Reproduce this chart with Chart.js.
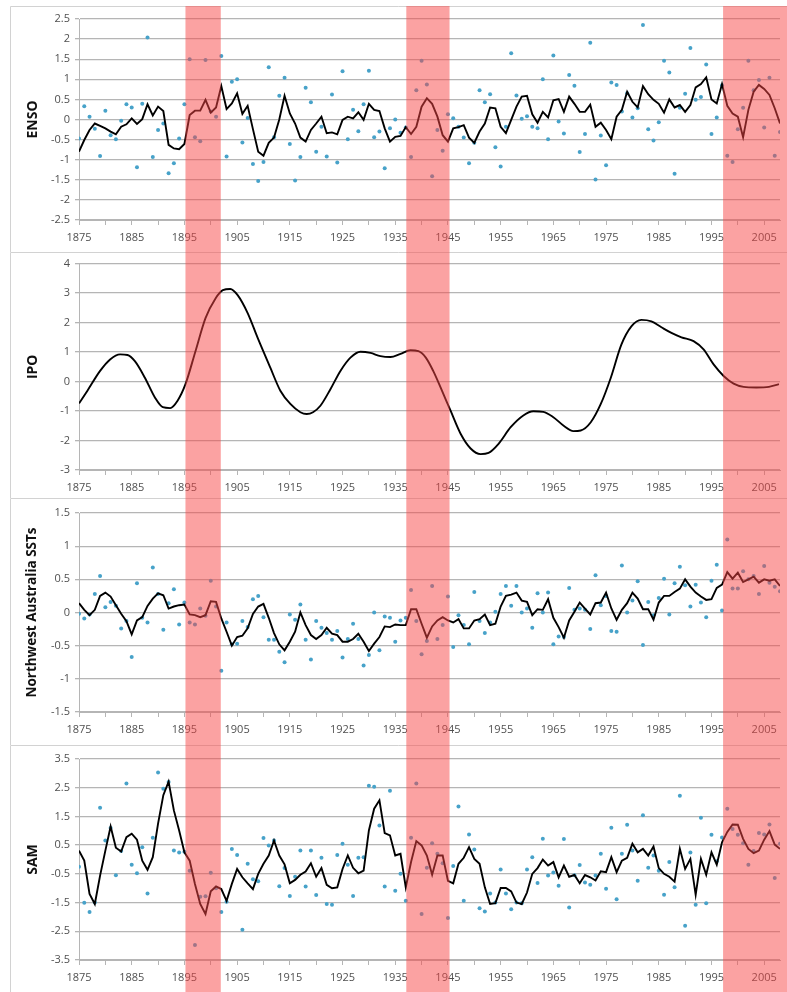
<!DOCTYPE html>
<html>
<head>
<meta charset="utf-8">
<script src="https://cdn.jsdelivr.net/npm/chart.js@4.4.1/dist/chart.umd.min.js"></script>
<style>
  html,body{margin:0;padding:0;background:#fff;}
  body{width:787px;height:992px;position:relative;overflow:hidden;}
  canvas{position:absolute;left:0;}
</style>
</head>
<body>
<canvas id="c1" width="787" height="246" style="top:6px"></canvas>
<canvas id="c2" width="787" height="246" style="top:252px"></canvas>
<canvas id="c3" width="787" height="247" style="top:498px"></canvas>
<canvas id="c4" width="787" height="247" style="top:745px"></canvas>
<script>
// ---------- data ----------
const startYear = 1875;
const endYear = 2008;
const xTickLabels = ['1875','1885','1895','1905','1915','1925','1935','1945','1955','1965','1975','1985','1995','2005'];

// shaded periods (years)
const bandStart = [1895.2, 1937.1, 1997.2];
const bandEnd   = [1901.9, 1945.3, 2010.0];

// ENSO: annual values (dots) and smoothed (line), 1875-2008
const ensoAnnual = [
 -0.47, 0.33, 0.07,-0.23,-0.91, 0.22,-0.39,-0.49,-0.03, 0.38,
  0.30,-1.19, 0.39, 2.04,-0.93,-0.26,-0.10,-1.34,-1.09,-0.47,
  0.38, 1.50,-0.44,-0.54, 1.48, 0.20, 0.07, 1.58,-0.92, 0.94,
  1.00,-0.57, 0.04,-1.11,-1.53,-1.06, 1.30,-0.44, 0.59, 1.04,
 -0.61,-1.52,-0.93, 0.79, 0.43,-0.80,-0.18,-0.92, 0.62,-1.07,
  1.20,-0.49, 0.24,-0.29, 0.38, 1.21,-0.44,-0.30,-1.21,-0.22,
  0.00,-0.33,-0.20,-0.93, 0.73, 1.46, 0.87,-1.41,-0.26,-0.78,
  0.13, 0.03,-0.18,-0.45,-1.09,-0.58, 0.73, 0.43, 0.63,-0.69,
 -1.17,-0.18, 1.65, 0.60, 0.02, 0.08,-0.18,-0.22, 1.00,-0.49,
  1.59,-0.05,-0.35, 1.11, 0.84,-0.81,-0.36, 1.91,-1.49,-0.40,
 -1.14, 0.92, 0.86, 0.20, 0.65, 0.05, 0.28, 2.35,-0.24,-0.52,
 -0.07, 1.46, 1.17,-1.35, 0.29, 0.64, 1.78, 0.49, 0.56, 1.37,
 -0.36, 0.05, 0.85,-0.90,-1.06,-0.24, 0.29, 1.46, 0.73, 0.98,
 -0.20, 1.04,-0.90,-0.31];
const ensoSmoothed = [
 -0.80,-0.51,-0.26,-0.10,-0.16,-0.22,-0.30,-0.37,-0.18,-0.12,
  0.03,-0.11, 0.01, 0.38, 0.10, 0.32, 0.21,-0.63,-0.72,-0.74,
 -0.61, 0.11, 0.22, 0.22, 0.49, 0.17, 0.30, 0.83, 0.26, 0.40,
  0.65, 0.14, 0.34,-0.24,-0.80,-0.90,-0.58,-0.45, 0.00, 0.59,
  0.15,-0.10,-0.45,-0.55,-0.26,-0.10, 0.07,-0.34,-0.32,-0.37,
 -0.01, 0.07, 0.03, 0.18,-0.01, 0.39, 0.24, 0.21,-0.22,-0.55,
 -0.43,-0.41,-0.19,-0.36,-0.18, 0.32, 0.53, 0.39, 0.07,-0.39,
 -0.55,-0.22,-0.19,-0.14,-0.45,-0.58,-0.30,-0.10, 0.30, 0.28,
 -0.18,-0.34,-0.01, 0.32, 0.57, 0.59, 0.13,-0.08, 0.19, 0.05,
  0.48, 0.51, 0.19, 0.57, 0.39, 0.19, 0.19, 0.37,-0.18,-0.08,
 -0.26,-0.49, 0.07, 0.24, 0.69, 0.44, 0.30, 0.83, 0.63, 0.49,
  0.39, 0.17, 0.50, 0.30, 0.36, 0.19, 0.36, 0.80, 0.88, 1.05,
  0.50, 0.40, 0.88, 0.34, 0.15, 0.07,-0.44, 0.24, 0.69, 0.86,
  0.76, 0.61, 0.28,-0.10];

// IPO: smooth curve read at these years
const ipoYears = [
 1875,1876.6,1879,1880.9,1882.8,1884.2,1885.6,1887.5,1889.4,1890.9,
 1892.3,1893.7,1895.2,1897.1,1899,1900.9,1902.3,1903.7,1905.1,1907,
 1908.9,1911.3,1913.2,1915.1,1917,1918.2,1919.4,1920.8,1922.7,1924.6,
 1926.5,1928.4,1930.3,1932.2,1934.1,1936,1937.9,1939.4,1940.8,1942.2,
 1943.6,1945.5,1947.4,1949.3,1951.2,1952.7,1954.6,1956.9,1959.3,1961.2,
 1963.1,1965,1966.9,1968.8,1970.2,1972.1,1974,1975.9,1977.9,1979.8,
 1981.7,1983.6,1985.5,1987.4,1989.3,1991.6,1993.5,1995.4,1997.3,1999.2,
 2001.1,2003.5,2005.9,2007.8];
const ipoValues = [
 -0.74,-0.31, 0.36, 0.75, 0.92, 0.90, 0.69, 0.13,-0.54,-0.87,
 -0.90,-0.65,-0.09, 1.03, 2.15, 2.82, 3.10, 3.14, 2.93, 2.32,
  1.48, 0.47,-0.31,-0.76,-1.04,-1.10,-1.04,-0.82,-0.26, 0.36,
  0.81, 1.01, 0.97, 0.86, 0.83, 0.94, 1.06, 1.03, 0.81, 0.36,
 -0.20,-0.99,-1.77,-2.27,-2.46,-2.42,-2.11,-1.55,-1.15,-1.01,
 -1.03,-1.21,-1.49,-1.68,-1.66,-1.38,-0.76, 0.13, 1.25, 1.87,
  2.09, 2.04, 1.84, 1.65, 1.50, 1.37, 1.09, 0.58, 0.19,-0.07,
 -0.18,-0.20,-0.18,-0.09];

// Northwest Australia SSTs
const sstAnnual = [
 -0.02,-0.09,-0.03, 0.28, 0.55, 0.08, 0.16, 0.10,-0.24,-0.13,
 -0.67, 0.44,-0.08,-0.15, 0.68, 0.28,-0.26, 0.14, 0.35,-0.18,
  0.15,-0.15,-0.18, 0.06,-0.05, 0.48, 0.09,-0.88,-0.15,-0.48,
 -0.47,-0.13,-0.22, 0.20, 0.25,-0.07,-0.41,-0.41,-0.59,-0.75,
 -0.03,-0.11, 0.12,-0.41,-0.71,-0.13,-0.23,-0.31,-0.41,-0.28,
 -0.68,-0.40,-0.17,-0.40,-0.80,-0.64, 0.00,-0.57,-0.06,-0.08,
 -0.44,-0.12,-0.08, 0.34,-0.13,-0.63,-0.43, 0.40,-0.40,-0.19,
  0.24,-0.52,-0.04,-0.19,-0.48, 0.31,-0.13,-0.31,-0.15, 0.01,
  0.28, 0.40, 0.10, 0.40, 0.00, 0.06,-0.23, 0.29, 0.00, 0.30,
 -0.48,-0.36,-0.37, 0.37, 0.04, 0.06, 0.04,-0.25, 0.56, 0.11,
  0.25,-0.28,-0.29, 0.71, 0.00, 0.18, 0.47,-0.49, 0.16,-0.04,
  0.22, 0.51,-0.03, 0.44, 0.69, 0.41, 0.09, 0.42, 0.15,-0.07,
  0.48, 0.72, 0.03, 1.10, 0.36, 0.36, 0.62, 0.50, 0.55, 0.28,
  0.70, 0.45, 0.39, 0.32];
const sstSmoothed = [
  0.14, 0.04,-0.04, 0.04, 0.25, 0.30, 0.24, 0.11,-0.02,-0.13,
 -0.33,-0.12,-0.07, 0.10, 0.21, 0.29, 0.26, 0.06, 0.09, 0.11,
  0.12,-0.03,-0.04,-0.07,-0.04, 0.17, 0.16,-0.09,-0.29,-0.50,
 -0.37,-0.35,-0.24,-0.02, 0.09, 0.13,-0.08,-0.31,-0.48,-0.57,
 -0.44,-0.29, 0.00,-0.19,-0.34,-0.40,-0.34,-0.23,-0.32,-0.34,
 -0.44,-0.44,-0.40,-0.32,-0.44,-0.58,-0.47,-0.37,-0.21,-0.22,
 -0.18,-0.19,-0.19, 0.05, 0.05,-0.17,-0.38,-0.21,-0.12,-0.07,
 -0.12,-0.15,-0.10,-0.24,-0.24,-0.12,-0.10,-0.03,-0.19,-0.17,
  0.09, 0.25, 0.27, 0.30, 0.18, 0.16,-0.04, 0.05, 0.04, 0.20,
 -0.08,-0.22,-0.38,-0.12, 0.01, 0.15, 0.06,-0.03, 0.14, 0.15,
  0.30, 0.06,-0.11, 0.04, 0.14, 0.30, 0.21, 0.05, 0.05,-0.11,
  0.15, 0.25, 0.25, 0.31, 0.36, 0.50, 0.39, 0.30, 0.24, 0.19,
  0.20, 0.37, 0.42, 0.61, 0.51, 0.60, 0.46, 0.50, 0.54, 0.45,
  0.50, 0.48, 0.50, 0.40];

// SAM
const samAnnual = [
 -0.25,-1.51,-1.83,-1.50, 1.80, 0.66, 1.10,-0.55, 0.30, 2.65,
 -0.18,-0.48, 0.43,-1.18, 0.76, 3.03, 2.46, 2.70, 0.31, 0.24,
  0.27,-0.39,-2.98,-1.30,-1.28,-0.46,-1.00,-1.83,-1.47, 0.37,
  0.16,-2.45,-0.15,-0.69,-0.76, 0.75, 0.49, 0.66,-0.93,-0.30,
 -1.27,-0.60, 0.31,-0.94, 0.31,-1.24, 0.06,-1.55,-1.58, 0.16,
  0.55,-0.18,-1.27, 0.06, 0.08, 2.57, 2.53, 1.18,-0.94, 2.39,
 -1.09,-0.50,-1.44, 0.76, 2.65,-1.90,-0.29, 0.57, 0.20,-0.13,
 -2.04,-0.23, 1.85,-1.44, 0.87, 0.35,-1.70,-1.81,-1.18,-1.50,
 -0.35,-1.18,-1.73,-1.50,-1.52,-0.35, 0.08,-0.82, 0.72,-0.56,
 -0.45,-0.91, 0.71,-1.67,-0.55,-0.19,-0.80,-0.88,-0.56, 0.20,
 -1.02, 1.11,-1.38, 0.20, 1.21, 0.31,-0.74, 1.54,-0.29, 0.14,
 -0.39,-1.23,-0.09,-0.97, 2.22,-2.31, 0.24,-1.58, 1.45,-1.52,
  0.86,-0.06, 0.77, 1.77, 1.06, 0.86, 0.57,-0.18, 0.30, 0.92,
  0.87, 1.22,-0.64, 0.55];
const samSmoothed = [
  0.31,-0.04,-1.20,-1.55,-0.56, 0.31, 1.15, 0.41, 0.28, 0.78,
  0.90, 0.69,-0.04,-0.36, 0.08, 1.25, 2.24, 2.71, 1.71, 1.01,
  0.25,-0.04,-0.85,-1.55,-1.90,-1.11,-0.94,-1.03,-1.44,-0.85,
 -0.33,-0.62,-0.83,-1.03,-0.50,-0.15, 0.14, 0.66, 0.14,-0.17,
 -0.83,-0.71,-0.53,-0.42,-0.13,-0.60,-0.30,-0.88,-1.00,-0.97,
 -0.33, 0.14,-0.29,-0.48,-0.39, 1.01, 1.77, 2.06, 0.92, 0.84,
  0.14, 0.20,-0.97,-0.09, 0.64, 0.49, 0.14,-0.53, 0.14, 0.14,
 -0.74,-0.83,-0.15, 0.06, 0.43, 0.02,-0.15,-0.97,-1.55,-1.52,
 -0.99,-0.99,-1.11,-1.50,-1.55,-1.15,-0.50,-0.30, 0.00,-0.21,
 -0.09,-0.62,-0.21,-0.60,-0.54,-0.83,-0.54,-0.62,-0.73,-0.41,
 -0.44, 0.08,-0.44,-0.04, 0.06, 0.55, 0.25, 0.37, 0.14, 0.45,
 -0.30,-0.50,-0.60,-0.77, 0.37,-0.33, 0.02,-1.23, 0.02,-0.53,
  0.25,-0.18, 0.60, 0.96, 1.22, 1.21, 0.72, 0.37, 0.22, 0.31,
  0.69, 0.99, 0.52, 0.37];

// ---------- helpers ----------
const annual = arr => arr.map((v, i) => ({x: startYear + i, y: v}));
const paired = (xs, ys) => xs.map((x, i) => ({x: x, y: ys[i]}));

const GRID = '#b5b5b5';
const TICKC = '#505050';
const FONT = 'Open Sans';

const panelPlugin = {
  id: 'panelDeco',
  beforeDraw(chart) {
    const c = chart.ctx;
    c.save();
    c.strokeStyle = '#d2d2d2';
    c.lineWidth = 1;
    c.beginPath();
    c.moveTo(10.5, chart.height);
    c.lineTo(10.5, 0.5);
    c.lineTo(chart.width, 0.5);
    c.stroke();
    c.restore();
  },
  afterDraw(chart) {
    const xs = chart.scales.x;
    const c = chart.ctx;
    c.save();
    c.fillStyle = 'rgba(247,70,70,0.5)';
    bandStart.forEach((s, i) => {
      const a = xs.getPixelForValue(s);
      const b = xs.getPixelForValue(bandEnd[i]);
      c.fillRect(a, 0, b - a, chart.height);
    });
    c.restore();
  }
};

function makePanel(id, p) {
  const datasets = [{
    type: 'line',
    data: p.line,
    borderColor: '#000',
    borderWidth: 1.9,
    pointRadius: 0,
    tension: 0,
    cubicInterpolationMode: p.smooth ? 'monotone' : 'default',
    order: 0
  }];
  if (p.dots) {
    datasets.push({
      type: 'scatter',
      data: p.dots,
      backgroundColor: '#47a2c9',
      borderWidth: 0,
      pointRadius: 2,
      order: 1
    });
  }
  return new Chart(document.getElementById(id), {
    type: 'line',
    data: {datasets},
    options: {
      responsive: false,
      animation: false,
      events: [],
      layout: {padding: {left: 10, right: 7, top: p.padTop, bottom: 0}},
      plugins: {legend: {display: false}, tooltip: {enabled: false}},
      scales: {
        x: {
          type: 'linear',
          min: startYear,
          max: endYear,
          afterFit: s => { s.height = p.xh; },
          ticks: {
            stepSize: 5,
            autoSkip: false,
            includeBounds: false,
            maxRotation: 0,
            padding: 6,
            color: TICKC,
            font: {family: FONT, size: 11},
            callback: v => xTickLabels.includes(String(v)) ? String(v) : ''
          },
          grid: {drawOnChartArea: false, drawTicks: true, tickLength: 5, color: GRID},
          border: {display: true, color: GRID}
        },
        y: {
          min: p.min,
          max: p.max,
          afterFit: s => { s.width = 69; },
          ticks: {
            stepSize: p.step,
            padding: 5,
            color: TICKC,
            font: {family: FONT, size: 11},
            callback: v => String(Math.round(v * 10) / 10)
          },
          grid: {color: GRID, lineWidth: 1.3, tickLength: 4},
          border: {display: true, color: GRID},
          title: {
            display: true,
            text: p.title,
            color: '#111',
            font: {family: FONT, size: p.titleSize || 14, weight: 'bold'},
            padding: {top: 14.5, bottom: 0}
          }
        }
      }
    },
    plugins: [panelPlugin]
  });
}

makePanel('c1', {title: 'ENSO', min: -2.5, max: 2.5, step: 0.5, padTop: 13, xh: 32,
  line: annual(ensoSmoothed), dots: annual(ensoAnnual)});
makePanel('c2', {title: 'IPO', min: -3, max: 4, step: 1, padTop: 10, xh: 28, smooth: true,
  line: paired(ipoYears, ipoValues)});
makePanel('c3', {title: 'Northwest Australia SSTs', min: -1.5, max: 1.5, step: 0.5, padTop: 15, xh: 33,
  line: annual(sstSmoothed), dots: annual(sstAnnual), titleSize: 13.5});
makePanel('c4', {title: 'SAM', min: -3.5, max: 3.5, step: 1, padTop: 14, xh: 32,
  line: annual(samSmoothed), dots: annual(samAnnual)});
</script>
</body>
</html>
